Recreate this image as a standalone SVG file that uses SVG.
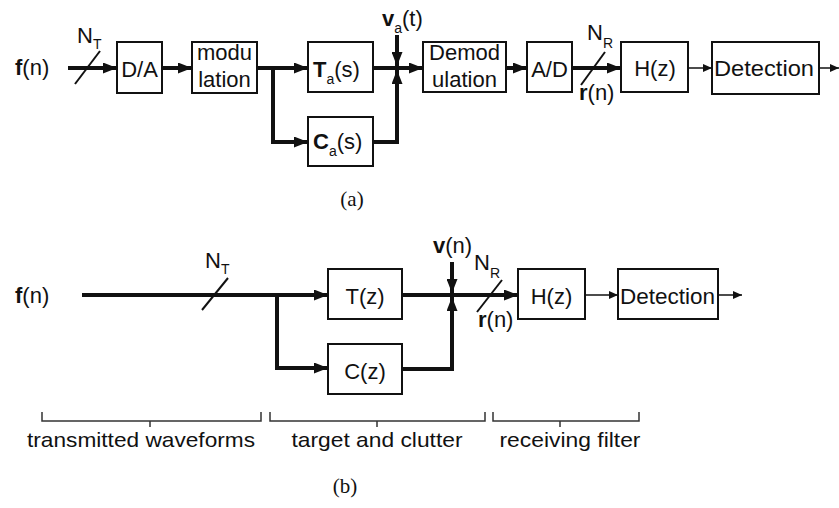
<svg xmlns="http://www.w3.org/2000/svg" width="839" height="508" viewBox="0 0 839 508">
<style>
.box{fill:#fff;stroke:#111;stroke-width:2}
.t{font-family:"Liberation Sans",Arial,sans-serif;font-size:22px;fill:#111}
.b{font-weight:bold}
.s{font-size:14px}
.thick{stroke:#111;stroke-width:4;fill:none}
.thin{stroke:#111;stroke-width:1.5;fill:none}
.slash{stroke:#111;stroke-width:2;fill:none}
.br{stroke:#333;stroke-width:1.5;fill:none}
.cap{font-family:"Liberation Serif","Times New Roman",serif;font-size:21px;fill:#111}
.lab{font-family:"Liberation Sans",Arial,sans-serif;font-size:21px;fill:#111}
</style>
<defs>
<marker id="ah" markerUnits="userSpaceOnUse" markerWidth="14" markerHeight="11" refX="14" refY="5.5" orient="auto"><path d="M0,0 L14,5.5 L0,11 z" fill="#111"/></marker>
<marker id="as" markerUnits="userSpaceOnUse" markerWidth="9" markerHeight="8" refX="9" refY="4" orient="auto"><path d="M0,0 L9,4 L0,8 z" fill="#111"/></marker>
</defs>
<rect width="839" height="508" fill="#fff"/>

<!-- (a) -->
<g id="a-input"><text class="t" x="15" y="75"><tspan class="b">f</tspan>(n)</text></g>
<g id="a-DA"><rect class="box" x="117" y="42" width="45" height="51"/><text class="t" x="139.5" y="77" text-anchor="middle">D/A</text></g>
<g id="a-mod"><rect class="box" x="192" y="42" width="65" height="51"/><text class="t" x="224.5" y="60" text-anchor="middle">modu</text><text class="t" x="224.5" y="87" text-anchor="middle">lation</text></g>
<g id="a-Ta"><rect class="box" x="308" y="42" width="65" height="50"/><text class="t" x="313" y="77"><tspan class="b">T</tspan><tspan class="s" dy="7">a</tspan><tspan dy="-7">(s)</tspan></text></g>
<g id="a-Ca"><rect class="box" x="308" y="117" width="65" height="49"/><text class="t" x="313" y="149"><tspan class="b">C</tspan><tspan class="s" dy="7">a</tspan><tspan dy="-7">(s)</tspan></text></g>
<g id="a-va"><text class="t" x="382" y="26"><tspan class="b">v</tspan><tspan class="s" dy="7">a</tspan><tspan dy="-7">(t)</tspan></text></g>
<g id="a-demod"><rect class="box" x="423" y="42" width="83" height="50"/><text class="t" x="464.5" y="60" text-anchor="middle">Demod</text><text class="t" x="464.5" y="87" text-anchor="middle">ulation</text></g>
<g id="a-AD"><rect class="box" x="527" y="42" width="45" height="50"/><text class="t" x="549.5" y="77" text-anchor="middle">A/D</text></g>
<g id="a-H"><rect class="box" x="621" y="42" width="67" height="50"/><text class="t" x="655" y="76" text-anchor="middle" font-size="23">H(z)</text></g>
<g id="a-det"><rect class="box" x="712" y="42" width="107" height="52"/><text class="t" x="764" y="76" text-anchor="middle" textLength="100" lengthAdjust="spacingAndGlyphs" font-size="23">Detection</text></g>
<g id="a-labels">
<text class="t" x="77" y="43">N<tspan class="s" dy="6">T</tspan></text>
<text class="t" x="587" y="40">N<tspan class="s" dy="8">R</tspan></text>
<text class="t" x="579" y="100"><tspan class="b">r</tspan>(n)</text>
</g>

<g id="a-connectors">
<line class="thick" x1="68" y1="68" x2="117" y2="68" marker-end="url(#ah)"/>
<line class="slash" x1="75" y1="84" x2="100" y2="51"/>
<line class="thick" x1="162" y1="68" x2="192" y2="68" marker-end="url(#ah)"/>
<line class="thick" x1="257" y1="68" x2="308" y2="68" marker-end="url(#ah)"/>
<polyline class="thick" points="273,68 273,142 308,142" marker-end="url(#ah)"/>
<line class="thick" x1="373" y1="68" x2="423" y2="68" marker-end="url(#ah)"/>
<line class="thick" x1="397" y1="35" x2="397" y2="66" marker-end="url(#ah)"/>
<polyline class="thick" points="373,142 397,142 397,70" marker-end="url(#ah)"/>
<line class="thick" x1="506" y1="68" x2="527" y2="68" marker-end="url(#ah)"/>
<line class="thick" x1="572" y1="68" x2="621" y2="68" marker-end="url(#ah)"/>
<line class="slash" x1="581" y1="85" x2="605" y2="52"/>
<line class="thin" x1="688" y1="68" x2="712" y2="68" marker-end="url(#as)"/>
<line class="thin" x1="819" y1="68" x2="839" y2="68" marker-end="url(#as)"/>
</g>
<text class="cap" x="352" y="206" text-anchor="middle">(a)</text>

<!-- (b) -->
<g id="b-input"><text class="t" x="15" y="303"><tspan class="b">f</tspan>(n)</text></g>
<g id="b-T"><rect class="box" x="328" y="269" width="74" height="50"/><text class="t" x="365" y="304" text-anchor="middle">T(z)</text></g>
<g id="b-C"><rect class="box" x="328" y="344" width="74" height="50"/><text class="t" x="365" y="379" text-anchor="middle">C(z)</text></g>
<g id="b-v"><text class="t" x="433" y="253"><tspan class="b">v</tspan>(n)</text></g>
<g id="b-H"><rect class="box" x="518" y="269" width="67" height="50"/><text class="t" x="551.5" y="304" text-anchor="middle">H(z)</text></g>
<g id="b-det"><rect class="box" x="618" y="269" width="100" height="50"/><text class="t" x="667.5" y="304" text-anchor="middle" textLength="95" lengthAdjust="spacingAndGlyphs">Detection</text></g>
<g id="b-labels">
<text class="t" x="205" y="268">N<tspan class="s" dy="6">T</tspan></text>
<text class="t" x="474" y="270">N<tspan class="s" dy="8">R</tspan></text>
<text class="t" x="478" y="327"><tspan class="b">r</tspan>(n)</text>
</g>
<g id="b-connectors">
<line class="thick" x1="82" y1="295" x2="328" y2="295" marker-end="url(#ah)"/>
<line class="slash" x1="202" y1="310" x2="228" y2="278"/>
<polyline class="thick" points="277,295 277,368 328,368" marker-end="url(#ah)"/>
<line class="thick" x1="402" y1="295" x2="518" y2="295" marker-end="url(#ah)"/>
<line class="thick" x1="452" y1="262" x2="452" y2="293" marker-end="url(#ah)"/>
<polyline class="thick" points="402,369 452,369 452,297" marker-end="url(#ah)"/>
<line class="slash" x1="477" y1="312" x2="502" y2="280"/>
<line class="thin" x1="585" y1="295" x2="618" y2="295" marker-end="url(#as)"/>
<line class="thin" x1="718" y1="295" x2="742" y2="295" marker-end="url(#as)"/>
</g>
<g id="brackets">
<path class="br" d="M42,412 V421 H261 V412 M150,421 V427"/>
<path class="br" d="M270,412 V421 H485 V412 M377,421 V427"/>
<path class="br" d="M493,412 V421 H639 V412 M560,421 V427"/>
</g>
<g id="bracket-labels">
<text class="lab" x="141" y="447" text-anchor="middle" textLength="228" lengthAdjust="spacingAndGlyphs">transmitted waveforms</text>
<text class="lab" x="377" y="447" text-anchor="middle" textLength="171" lengthAdjust="spacingAndGlyphs">target and clutter</text>
<text class="lab" x="570" y="447" text-anchor="middle" textLength="141" lengthAdjust="spacingAndGlyphs">receiving filter</text>
</g>
<text class="cap" x="345" y="493" text-anchor="middle">(b)</text>
</svg>
